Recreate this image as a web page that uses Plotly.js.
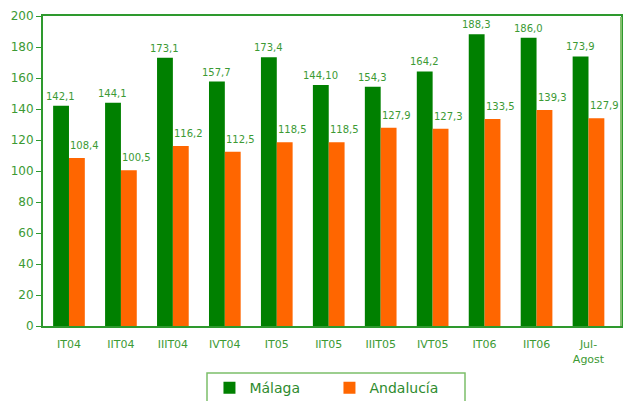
<!DOCTYPE html>
<html>
<head>
<meta charset="utf-8">
<script src="https://cdn.plot.ly/plotly-3.0.1.min.js"></script>
<style>html,body{margin:0;padding:0;background:#fff;}#chart{width:627px;height:401px;}</style>
</head>
<body>
<div id="chart"></div>
<script>
var categories = ["IT04","IIT04","IIIT04","IVT04","IT05","IIT05","IIIT05","IVT05","IT06","IIT06","Jul-<br>Agost"];
var malagaValues = [142.1,144.1,173.1,157.7,173.4,155.5,154.3,164.2,188.3,186.0,173.9];
var malagaLabels = ["142,1","144,1","173,1","157,7","173,4","144,10","154,3","164,2","188,3","186,0","173,9"];
var andaluciaValues = [108.4,100.5,116.2,112.5,118.5,118.5,127.9,127.3,133.5,139.3,134.1];
var andaluciaLabels = ["108,4","100,5","116,2","112,5","118,5","118,5","127,9","127,3","133,5","139,3","127,9"];
var seriesNames = ["Málaga","Andalucía"];

var GREEN = "#008000", ORANGE = "#ff6600", TXT = "#3c9a34", AXIS = "#2e992e";
var FONT = "DejaVu Sans, Verdana, sans-serif";

var traces = [
  {type:"bar", name:seriesNames[0], x:categories, y:malagaValues, marker:{color:GREEN}, hoverinfo:"none"},
  {type:"bar", name:seriesNames[1], x:categories, y:andaluciaValues, marker:{color:ORANGE}, hoverinfo:"none"}
];

var annotations = [];
categories.forEach(function(c,i){
  annotations.push({x:c, y:malagaValues[i], text:malagaLabels[i], showarrow:false, xref:"x", yref:"y",
    yanchor:"bottom", xanchor:"center", xshift:-8, yshift:2, font:{family:FONT,size:10,color:TXT}});
  annotations.push({x:c, y:andaluciaValues[i], text:andaluciaLabels[i], showarrow:false, xref:"x", yref:"y",
    yanchor:"bottom", xanchor:"center", xshift:16, yshift:5, font:{family:FONT,size:10,color:TXT}});
});

var layout = {
  width:627, height:401,
  margin:{l:43, r:6, t:16, b:75, autoexpand:false},
  paper_bgcolor:"#fff", plot_bgcolor:"#fff",
  barmode:"group", bargap:0.39, bargroupgap:0,
  font:{family:FONT, color:TXT},
  showlegend:true,
  legend:{orientation:"h", x:0.288, xanchor:"left", y:-0.149, yanchor:"top",
    font:{family:FONT,size:14,color:"#2e8b2e"}, bgcolor:"rgba(0,0,0,0)", borderwidth:0,
    entrywidth:75, entrywidthmode:"pixels"},
  xaxis:{showline:true, linecolor:AXIS, linewidth:2, mirror:true, ticks:"", showgrid:false, automargin:false,
    ticklabelstandoff:7, tickfont:{family:FONT,size:11,color:TXT}, fixedrange:true},
  yaxis:{range:[0,200], dtick:20, showline:true, linecolor:AXIS, linewidth:2, mirror:true, automargin:false,
    ticks:"outside", ticklen:5, tickcolor:AXIS, tickwidth:1, showgrid:false, zeroline:false,
    tickfont:{family:FONT,size:12,color:TXT}, fixedrange:true},
  annotations:annotations,
  shapes:[
    {type:"rect", xref:"paper", yref:"paper", x0:(207-43)/578, x1:(465-43)/578,
      y0:(326-373)/310, y1:(326-420)/310, line:{color:"#7cbf6a", width:1.5}, fillcolor:"rgba(0,0,0,0)"},
    {type:"line", xref:"paper", yref:"paper", x0:1, x1:1, y0:0, y1:0.997, line:{color:"#86c070", width:2}}
  ]
};

Plotly.newPlot("chart", traces, layout, {displayModeBar:false, staticPlot:true});
</script>
</body>
</html>
